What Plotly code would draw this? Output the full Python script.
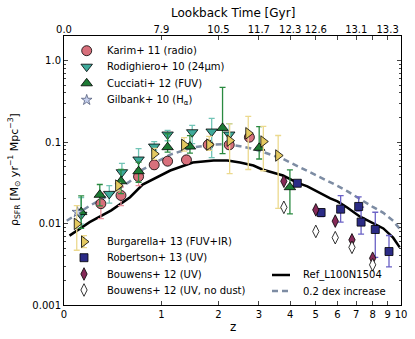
import plotly.graph_objects as go

# simulation curve (Ref_L100N1504) and the same run shifted up by 0.2 dex
ref_z = [0.04, 0.2, 0.4, 0.6, 0.75, 1.0, 1.13, 1.5, 1.9, 2.2, 2.5, 2.85, 3.1, 3.75,
         4.25, 4.65, 5.2, 5.65, 6.0, 6.5, 7.2, 8.0, 8.7, 9.4, 9.9]
ref_rho = [0.0071, 0.0104, 0.0145, 0.021, 0.030, 0.0388, 0.0447, 0.056, 0.0593, 0.0593,
           0.056, 0.0515, 0.046, 0.0388, 0.0318, 0.0285, 0.0233, 0.0203, 0.0187, 0.0157,
           0.0122, 0.0100, 0.0087, 0.0067, 0.0051]
dex_z = [0.02, 0.2, 0.4, 0.6, 0.75, 1.0, 1.13, 1.5, 1.9, 2.2, 2.5, 2.85, 3.1, 3.75,
         4.25, 4.65, 5.2, 5.65, 6.0, 6.5, 7.2, 8.0, 8.7, 9.4, 10.0]
dex_rho = [0.0108, 0.0165, 0.023, 0.033, 0.046, 0.061, 0.070, 0.086, 0.093, 0.094,
           0.089, 0.082, 0.076, 0.062, 0.051, 0.045, 0.037, 0.032, 0.029, 0.025,
           0.020, 0.016, 0.0135, 0.0108, 0.0082]

# observations
karim_z = [0.30, 0.50, 0.70, 0.90, 1.09, 1.39, 1.79, 2.24, 2.74]
karim_rho = [0.0175, 0.0221, 0.0377, 0.0525, 0.0582, 0.0604, 0.0924, 0.0924, 0.1146]
karim_lo = [0.006, 0.0055, 0.0085, 0.006, 0.005, 0.005, 0.010, 0.010, 0.012]
karim_hi = [0.006, 0.006, 0.009, 0.006, 0.005, 0.005, 0.010, 0.010, 0.012]

rodi_z = [0.13, 0.38, 0.51, 0.70, 0.90, 1.09, 1.49, 1.86, 2.24]
rodi_rho = [0.0128, 0.0231, 0.0426, 0.061, 0.088, 0.1236, 0.1318, 0.1345, 0.1236]
rodi_lo = [0.003, 0.0053, 0.0105, 0.016, 0.0093, 0.020, 0.036, 0.070, 0.020]
rodi_hi = [0.008, 0.006, 0.012, 0.022, 0.013, 0.015, 0.028, 0.060, 0.045]

cucc_z = [0.13, 0.29, 0.50, 0.70, 1.09, 1.45, 2.09, 3.01, 3.99]
cucc_rho = [0.0138, 0.0225, 0.033, 0.0438, 0.0864, 0.088, 0.149, 0.0849, 0.0279]
cucc_lo = [0.0051, 0.006, 0.0097, 0.0117, 0.0114, 0.015, 0.077, 0.023, 0.0148]
cucc_hi = [0.008, 0.0076, 0.013, 0.0127, 0.040, 0.032, 0.320, 0.070, 0.0177]

gilb_z = [0.10]
gilb_rho = [0.0138]

burg_z = [0.095, 0.47, 0.90, 1.35, 1.81, 2.25, 2.71, 3.13, 3.59]
burg_rho = [0.0099, 0.0292, 0.0716, 0.0924, 0.093, 0.104, 0.128, 0.1014, 0.0683]
burg_lo = [0.0052, 0.004, 0.0105, 0.015, 0.014, 0.063, 0.082, 0.057, 0.053]
burg_hi = [0.0067, 0.002, 0.012, 0.021, 0.024, 0.063, 0.078, 0.054, 0.052]

robe_z = [4.26, 5.23, 6.16, 7.14, 7.28, 8.16, 9.1]
robe_rho = [0.0312, 0.01364, 0.015, 0.0162, 0.0104, 0.00844, 0.00453]
robe_lo = [0.002, 0.0015, 0.0046, 0.002, 0.003, 0.0046, 0.0016]
robe_hi = [0.002, 0.0015, 0.007, 0.005, 0.0055, 0.0053, 0.0026]

bouw_z = [3.78, 5.0, 5.89, 6.76, 7.99]
bouw_rho = [0.033, 0.0147, 0.0107, 0.0063, 0.00375]
bouw_nodust_rho = [0.0158, 0.0080, 0.0067, 0.0051, 0.00311]

# axes
z_ticks = list(range(11))
lookback_labels = ["0.0", "7.9", "10.5", "11.7", "12.3", "12.6", "", "13.1", "", "13.3", ""]
y_ticks = [0.001, 0.01, 0.1, 1.0]
y_labels = ["0.001", "0.01", "0.1", "1.0"]

FONT = "DejaVu Sans"
# plot box in pixels: left, right, top, bottom
L, R, T, B = 64, 401, 36, 305


def xz(zs):
    return [1 + z for z in zs]


def paper(px, py):
    return (px - L) / (R - L), (B - py) / (B - T)


fig = go.Figure()

# style per data set: symbol, fill, errorbar colour, size, edge
styles = {
    "karim": ("circle", "#d8707c", "#e8909c", 10, "black"),
    "rodi": ("triangle-down", "#3faa9b", "#72c4b6", 10, "black"),
    "cucc": ("triangle-up", "#1d7a34", "#2a8a40", 10, "black"),
    "gilb": ("star", "#c6d0ee", None, 8, "#55607e"),
    "burg": ("triangle-right", "#e4c960", "#ecd98e", 10, "black"),
    "robe": ("square", "#2b2b86", "#6b62c6", 8, "black"),
    "bouw": ("diamond-tall", "#862a58", None, 9, "black"),
    "nodust": ("diamond-tall", "white", None, 9, "black"),
}


def add_obs(key, z, rho, lo=None, hi=None):
    symbol, fill, ecolor, size, edge = styles[key]
    err = None
    if lo is not None:
        err = dict(type="data", array=hi, arrayminus=lo, color=ecolor,
                   thickness=1.3, width=3)
    fig.add_trace(go.Scatter(
        x=xz(z), y=rho, mode="markers", showlegend=False,
        marker=dict(symbol=symbol, size=size, color=fill,
                    line=dict(color=edge, width=0.8)),
        error_y=err,
    ))


fig.add_trace(go.Scatter(x=xz(dex_z), y=dex_rho, mode="lines", showlegend=False,
                         line=dict(color="#7d8ca3", width=2.5, dash="6px,4px")))
fig.add_trace(go.Scatter(x=xz(ref_z), y=ref_rho, mode="lines", showlegend=False,
                         line=dict(color="black", width=2.5)))

add_obs("karim", karim_z, karim_rho, karim_lo, karim_hi)
add_obs("rodi", rodi_z, rodi_rho, rodi_lo, rodi_hi)
add_obs("cucc", cucc_z, cucc_rho, cucc_lo, cucc_hi)
add_obs("gilb", gilb_z, gilb_rho)
add_obs("burg", burg_z, burg_rho, burg_lo, burg_hi)
add_obs("robe", robe_z, robe_rho, robe_lo, robe_hi)
add_obs("bouw", bouw_z, bouw_rho)
add_obs("nodust", bouw_z, bouw_nodust_rho)

# hand-placed legends (pixel positions inside the plot box)
legend_marks = [
    ("karim", "Karim+ 11 (radio)", 86.7, 50.7),
    ("rodi", "Rodighiero+ 10 (24μm)", 86.7, 66.7),
    ("cucc", "Cucciati+ 12 (FUV)", 86.7, 83.3),
    ("gilb", "Gilbank+ 10 (H<sub>α</sub>)", 86.7, 100),
    ("burg", "Burgarella+ 13 (FUV+IR)", 84, 241.7),
    ("robe", "Robertson+ 13 (UV)", 84, 257.7),
    ("bouw", "Bouwens+ 12 (UV)", 84, 274),
    ("nodust", "Bouwens+ 12 (UV, no dust)", 84, 290),
]
annotations = []
for key, label, px, py in legend_marks:
    symbol, fill, ecolor, size, edge = styles[key]
    err = None
    if key == "burg":
        err = dict(type="data", array=[6], color=ecolor, thickness=1.3, width=3)
    fig.add_trace(go.Scatter(
        x=[px], y=[py], xaxis="x3", yaxis="y3", mode="markers", showlegend=False,
        marker=dict(symbol=symbol, size=size, color=fill, line=dict(color=edge, width=0.8)),
        error_y=err, hoverinfo="skip"))
    xp, yp = paper(105, py)
    annotations.append(dict(x=xp, y=yp, xref="paper", yref="paper", text=label,
                            showarrow=False, xanchor="left", yanchor="middle",
                            font=dict(family=FONT, size=10, color="black")))

line_marks = [
    ("Ref_L100N1504", dict(color="black", width=2.5), 275),
    ("0.2 dex increase", dict(color="#7d8ca3", width=2.5, dash="6px,4px"), 291),
]
for label, ln, py in line_marks:
    fig.add_trace(go.Scatter(x=[272, 290], y=[py, py], xaxis="x3", yaxis="y3",
                             mode="lines", line=ln, showlegend=False, hoverinfo="skip"))
    xp, yp = paper(300.7, py)
    annotations.append(dict(x=xp, y=yp, xref="paper", yref="paper", text=label,
                            showarrow=False, xanchor="left", yanchor="middle",
                            font=dict(family=FONT, size=10, color="black")))

# axis titles
for text, px, py, size, angle in [
    ("Lookback Time [Gyr]", 233, 13, 12, 0),
    ("z", 232.7, 327, 12, 0),
    ("ρ<sub>SFR</sub> [M<sub>⊙</sub> yr<sup>−1</sup> Mpc<sup>−3</sup>]", 14, 170, 11, -90),
]:
    xp, yp = paper(px, py)
    annotations.append(dict(x=xp, y=yp, xref="paper", yref="paper", text=text,
                            showarrow=False, xanchor="center", yanchor="middle",
                            textangle=angle,
                            font=dict(family=FONT, size=size, color="black")))

# invisible trace to carry the top axis
fig.add_trace(go.Scatter(x=[1, 11], y=[0.01, 0.01], xaxis="x2", mode="markers",
                         marker=dict(opacity=0), showlegend=False, hoverinfo="skip"))

fig.update_layout(
    width=415, height=339,
    margin=dict(l=L, r=415 - R, t=T, b=339 - B),
    paper_bgcolor="white", plot_bgcolor="white",
    font=dict(family=FONT, size=10, color="black"),
    showlegend=False,
    annotations=annotations,
    xaxis=dict(type="log", range=[0, 1.04139], tickvals=xz(z_ticks),
               ticktext=[str(z) for z in z_ticks], ticks="inside", ticklen=4,
               showline=True, linecolor="black", linewidth=1, mirror=True,
               showgrid=False, zeroline=False, automargin=False),
    xaxis2=dict(type="log", range=[0, 1.04139], overlaying="x", side="top",
                tickvals=xz(z_ticks), ticktext=lookback_labels, ticks="inside",
                ticklen=4, showgrid=False, zeroline=False, showline=False,
                automargin=False),
    xaxis3=dict(range=[L, R], overlaying="x", visible=False, automargin=False),
    yaxis3=dict(range=[B, T], overlaying="y", visible=False, automargin=False),
    yaxis=dict(type="log", range=[-3, 0.301], tickvals=y_ticks, ticktext=y_labels,
               ticks="inside", ticklen=4, showline=True, linecolor="black",
               linewidth=1, mirror="ticks", showgrid=False, zeroline=False,
               automargin=False,
               minor=dict(ticks="inside", ticklen=2,
                          tickvals=[m * d for d in (0.001, 0.01, 0.1, 1.0)
                                    for m in range(2, 10) if m * d < 2.0])),
)

fig.write_html("out.html", config={"displayModeBar": False},
               post_script="document.body.style.margin='0';document.body.style.overflow='hidden';")
